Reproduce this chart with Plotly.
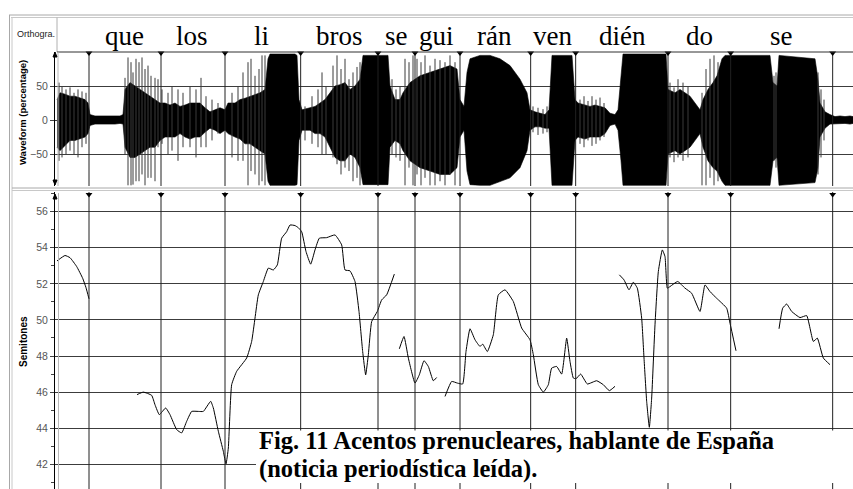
import plotly.graph_objects as go

W, H = 853, 489


def px(x):
    return x / W


def py(y):
    return 1 - y / H


# ---------------- data (time in ms) ----------------
boundaries_ms = [96, 312, 504, 731, 963, 1074, 1209, 1421, 1556, 1833, 2021, 2327]
syllables = ["que", "los", "li", "bros", "se", "gui", "rán", "ven", "dién", "do", "se"]
syllable_ms = [201, 404, 612, 846, 1017, 1138, 1311, 1485, 1695, 1928, 2172]

# pitch contour segments (ms, semitones)
seg1_t = [0, 24, 39, 59, 77, 87, 96]
seg1_st = [53.27, 53.57, 53.45, 52.96, 52.31, 51.79, 51.17]

seg2_t = [240, 259, 284, 294, 307, 326, 339, 359, 374, 389, 404, 424, 439, 461, 469, 484, 499, 507,
          514, 524, 539, 569, 584, 594, 604, 619, 634, 649, 661, 674, 689, 699, 714, 724, 734, 747,
          761, 774, 787, 809, 834, 854, 864, 879, 894, 906, 917, 926, 934, 944, 961, 974, 989, 1012]
seg2_st = [45.86, 46.0, 45.82, 45.3, 44.75, 45.12, 44.75, 43.92, 43.74, 44.38, 44.93, 44.93, 44.93,
           45.49, 45.12, 43.83, 42.72, 42.02, 42.9, 46.41, 47.15, 47.89, 48.81, 50.10, 51.39, 52.13,
           52.87, 52.77, 53.05, 54.53, 54.89, 55.26, 55.23, 55.11, 54.89, 53.79, 53.09, 53.88, 54.53,
           54.56, 54.71, 54.16, 52.77, 52.72, 52.13, 50.47, 48.25, 46.96, 48.07, 49.91, 50.47, 51.11,
           51.39, 52.54]

seg3_t = [1027, 1041, 1054, 1074, 1087, 1101, 1114, 1129, 1139]
seg3_st = [48.40, 49.08, 47.89, 46.50, 46.96, 47.74, 47.42, 46.63, 46.81]

seg4_t = [1164, 1184, 1201, 1217, 1227, 1239, 1254, 1269, 1277, 1291, 1309, 1324, 1344, 1369, 1394,
          1419, 1429, 1444, 1459, 1474, 1484, 1499, 1514, 1529, 1539, 1549, 1557, 1571, 1591, 1619,
          1639, 1657, 1674]
seg4_st = [45.76, 46.59, 46.50, 46.45, 48.25, 49.51, 48.90, 48.53, 48.66, 48.25, 49.18, 51.39, 51.67,
           51.02, 49.55, 48.90, 48.07, 46.41, 46.0, 46.41, 47.33, 47.42, 47.0, 48.99, 47.70, 46.78,
           46.74, 47.0, 46.45, 46.63, 46.41, 46.08, 46.32]

seg5_t = [1687, 1701, 1716, 1729, 1741, 1754, 1761, 1769, 1777, 1784, 1794, 1804, 1816, 1824, 1831,
          1839, 1862, 1884, 1904, 1929, 1944, 1959, 1979, 2009, 2019, 2037]
seg5_st = [52.5, 52.22, 51.67, 52.09, 51.76, 50.10, 47.89, 45.49, 44.05, 45.67, 49.73, 52.68, 53.88,
           53.51, 51.76, 51.85, 52.13, 51.76, 51.48, 50.47, 51.94, 51.57, 51.20, 50.65, 49.82, 48.29]

seg6_t = [2166, 2177, 2189, 2204, 2229, 2249, 2269, 2281, 2299, 2319]
seg6_st = [49.51, 50.65, 50.88, 50.47, 50.13, 50.24, 48.81, 48.99, 47.89, 47.52]

# waveform envelope (ms, % upper, % lower)
env_t = [0, 9, 24, 39, 54, 69, 84, 93, 99, 114, 129, 144, 159, 174, 189, 198, 204, 219, 234, 249,
         264, 279, 294, 309, 324, 339, 354, 369, 384, 399, 414, 429, 444, 459, 474, 489, 504, 513,
         534, 549, 564, 579, 594, 609, 624, 633, 639, 714, 720, 726, 735, 759, 774, 789, 804, 819,
         834, 849, 864, 879, 894, 909, 918, 993, 999, 1014, 1029, 1038, 1059, 1089, 1119, 1149,
         1179, 1200, 1209, 1221, 1230, 1239, 1269, 1299, 1329, 1359, 1389, 1410, 1419, 1434, 1449,
         1464, 1476, 1485, 1545, 1554, 1563, 1584, 1599, 1614, 1629, 1644, 1659, 1674, 1683, 1692,
         1698, 1827, 1833, 1854, 1869, 1884, 1899, 1914, 1929, 1938, 1953, 1968, 1980, 1995, 2004,
         2139, 2148, 2160, 2166, 2274, 2283, 2289, 2304, 2319, 2334, 2349, 2364, 2379, 2388]
env_hi = [30, 40, 38, 35, 35, 32, 30, 25, 8, 6, 6, 5, 6, 6, 6, 8, 45, 55, 50, 45,
          40, 35, 30, 25, 25, 22, 25, 20, 22, 25, 25, 25, 18, 12, 15, 18, 15, 25,
          25, 30, 32, 35, 38, 40, 45, 90, 97, 97, 95, 30, 15, 18, 20, 25, 30, 40,
          50, 52, 55, 45, 50, 60, 95, 95, 50, 30, 30, 40, 55, 65, 70, 75,
          80, 75, 30, 20, 70, 90, 95, 95, 90, 80, 60, 40, 15, 12, 10,
          8, 15, 95, 95, 30, 25, 22, 20, 22, 20, 18, 10, 8, 15, 60,
          97, 97, 45, 40, 45, 40, 35, 25, 15, 30, 45, 55, 65, 90, 95,
          95, 55, 50, 95, 90, 60, 25, 12, 8, 5, 6, 5, 6, 5]
env_lo = [-40, -45, -38, -30, -30, -28, -25, -20, -8, -6, -6, -6, -6, -6, -5, -6, -40, -55, -55, -50,
          -45, -40, -40, -30, -25, -25, -25, -20, -25, -28, -25, -25, -18, -12, -15, -20, -15, -20,
          -25, -28, -35, -35, -40, -45, -50, -90, -96, -96, -95, -30, -15, -15, -20, -20, -25, -40,
          -55, -60, -60, -50, -55, -70, -95, -95, -40, -30, -35, -45, -60, -70, -75, -80,
          -80, -70, -25, -15, -75, -95, -96, -96, -90, -85, -70, -45, -15, -10, -10,
          -12, -12, -96, -96, -30, -25, -28, -25, -25, -25, -20, -8, -6, -15, -60,
          -96, -96, -50, -45, -50, -45, -40, -30, -20, -40, -60, -70, -75, -90, -96,
          -96, -60, -55, -96, -92, -70, -25, -12, -6, -5, -5, -5, -6, -5]

# individual waveform peaks rising out of the envelope (ms, % up, % down)
spike_t = [6, 15, 27, 39, 51, 63, 75, 87,
           204, 213, 222, 228, 237, 246, 255, 264, 273, 282, 294, 303,
           315, 333, 345, 363, 378, 399, 417, 432, 447, 465, 483,
           525, 543, 558, 573, 582, 594, 606, 615, 624,
           744, 765, 783, 795, 807, 828, 840, 852, 864, 876, 888, 900, 909,
           1005, 1017, 1029, 1044, 1056, 1068, 1080, 1092, 1104, 1119, 1134, 1149, 1164, 1179, 1194,
           1428, 1443, 1458, 1470,
           1569, 1581, 1593, 1605, 1617, 1629, 1641,
           1839, 1851, 1863, 1878, 1893, 1935, 1947, 1959, 1971, 1983,
           2151, 2157, 2283, 2292, 2301]
spike_hi = [55, 50, 45, 48, 40, 45, 42, 40,
            62, 92, 85, 70, 90, 85, 92, 75, 80, 65, 62, 60,
            45, 40, 50, 45, 40, 50, 45, 62, 35, 30, 25,
            40, 50, 70, 85, 90, 65, 75, 95, 95,
            20, 35, 45, 70, 50, 80, 95, 75, 90, 60, 70, 78, 85,
            60, 45, 50, 90, 85, 95, 90, 85, 95, 80, 90, 88, 85, 95, 85,
            20, 18, 16, 20,
            30, 35, 28, 35, 30, 33, 25,
            55, 48, 60, 55, 50, 40, 75, 90, 95, 85,
            65, 70, 70, 45, 30]
spike_lo = [-60, -55, -50, -45, -50, -55, -40, -35,
            -50, -96, -96, -95, -90, -90, -80, -96, -85, -85, -90, -40,
            -35, -50, -45, -60, -40, -40, -55, -40, -40, -30, -20,
            -55, -60, -60, -96, -75, -80, -96, -90, -96,
            -30, -35, -40, -50, -50, -55, -65, -80, -70, -75, -90, -85, -96,
            -50, -55, -60, -96, -70, -96, -80, -96, -85, -96, -96, -90, -96, -80, -96,
            -18, -22, -20, -18,
            -35, -40, -30, -38, -35, -30, -25,
            -55, -62, -55, -60, -55, -96, -96, -85, -96, -90,
            -60, -70, -80, -55, -30]

wave_ticks = [-50, 0, 50]
semitone_ticks = [42, 44, 46, 48, 50, 52, 54, 56]
caption_line1 = "Fig. 11 Acentos prenucleares, hablante de España"
caption_line2 = "(noticia periodística leída)."

# ---------------- figure ----------------
X0 = 55  # pixel of y-axis line
XRANGE = [-6, 2388]
fig = go.Figure()

# waveform body
fig.add_trace(go.Scatter(
    x=env_t + env_t[::-1], y=env_hi + env_lo[::-1], mode="lines", fill="toself",
    fillcolor="black", line=dict(color="black", width=0.6),
    xaxis="x", yaxis="y", hoverinfo="skip", showlegend=False))

sx, sy = [], []
for t, h, l in zip(spike_t, spike_hi, spike_lo):
    sx += [t, t, None]
    sy += [h, l, None]
fig.add_trace(go.Scatter(x=sx, y=sy, mode="lines", line=dict(color="#3a3a3a", width=1),
                         xaxis="x", yaxis="y", hoverinfo="skip", showlegend=False))

# pitch contour
for t, s in [(seg1_t, seg1_st), (seg2_t, seg2_st), (seg3_t, seg3_st),
             (seg4_t, seg4_st), (seg5_t, seg5_st), (seg6_t, seg6_st)]:
    fig.add_trace(go.Scatter(x=t, y=s, mode="lines",
                             line=dict(color="black", width=1, shape="spline", smoothing=0.4),
                             xaxis="x2", yaxis="y2", hoverinfo="skip", showlegend=False))

# segment boundaries as vertical lines through each panel (from data)
bx_w, by_w, bx_p, by_p = [], [], [], []
for b in boundaries_ms:
    bx_w += [b, b, None]
    by_w += [100, -97, None]
    bx_p += [b, b, None]
    by_p += [57.09, 40.63, None]
fig.add_trace(go.Scatter(x=bx_w, y=by_w, mode="lines", line=dict(color="#202020", width=1),
                         xaxis="x", yaxis="y", hoverinfo="skip", showlegend=False))
fig.add_trace(go.Scatter(x=bx_p, y=by_p, mode="lines", line=dict(color="#202020", width=1),
                         xaxis="x2", yaxis="y2", hoverinfo="skip", showlegend=False))

# boundary markers (small triangles at top of each panel)
fig.add_trace(go.Scatter(x=boundaries_ms, y=[98.5] * len(boundaries_ms), mode="markers",
                         marker=dict(symbol="triangle-down", size=6, color="black"),
                         xaxis="x", yaxis="y", cliponaxis=False, hoverinfo="skip", showlegend=False))
fig.add_trace(go.Scatter(x=boundaries_ms, y=[56.95] * len(boundaries_ms), mode="markers",
                         marker=dict(symbol="triangle-down", size=6, color="black"),
                         xaxis="x2", yaxis="y2", cliponaxis=False, hoverinfo="skip", showlegend=False))

shapes = []


def hline(y, x0, x1, color, width=1):
    shapes.append(dict(type="line", xref="paper", yref="paper", x0=px(x0), x1=px(x1),
                       y0=py(y), y1=py(y), line=dict(color=color, width=width)))


def vline(x, y0, y1, color, width=1):
    shapes.append(dict(type="line", xref="paper", yref="paper", x0=px(x), x1=px(x),
                       y0=py(y0), y1=py(y1), line=dict(color=color, width=width)))


hline(15, 9, 853, "#a8a8a8")
hline(17.5, 11, 853, "#c8c8c8")
vline(9.5, 15, 489, "#a8a8a8")
vline(12, 17.5, 489, "#c8c8c8")
hline(188, 12, 853, "#a8a8a8")
hline(190.5, 12, 853, "#c8c8c8")
vline(57, 17.5, 52, "#b0b0b0")
hline(52, 57, 853, "#303030")
vline(58, 52, 186, "#b8b8b8")
vline(58.5, 193, 489, "#b8b8b8")


def arrow(ycenter, up):
    y_tip = ycenter - 3 if up else ycenter + 3
    y_base = ycenter + 2 if up else ycenter - 2
    path = "M {} {} L {} {} L {} {} Z".format(px(X0), py(y_tip), px(X0 - 2), py(y_base),
                                              px(X0 + 2), py(y_base))
    shapes.append(dict(type="path", xref="paper", yref="paper", path=path,
                       fillcolor="black", line=dict(color="black", width=1)))


arrow(55, True)
arrow(182, False)
arrow(197, True)

# caption background
shapes.append(dict(type="rect", xref="paper", yref="paper", x0=px(256), x1=px(853),
                   y0=py(483), y1=py(430.5), fillcolor="white", line=dict(width=0), layer="above"))

annotations = []
for w, t in zip(syllables, syllable_ms):
    annotations.append(dict(x=t, y=py(36), xref="x", yref="paper", text=w, showarrow=False,
                            xanchor="center", yanchor="middle",
                            font=dict(family="Liberation Serif", size=27, color="black")))
annotations.append(dict(x=px(15), y=py(34), xref="paper", yref="paper", text="Orthogra.",
                        showarrow=False, xanchor="left", yanchor="middle",
                        font=dict(family="Liberation Sans", size=9, color="#222")))
annotations.append(dict(x=px(22), y=py(113), xref="paper", yref="paper",
                        text="<b>Waveform (percentage)</b>", showarrow=False, textangle=-90,
                        xanchor="center", yanchor="middle",
                        font=dict(family="Liberation Sans", size=9.5, color="black")))
annotations.append(dict(x=px(23), y=py(342), xref="paper", yref="paper",
                        text="<b>Semitones</b>", showarrow=False, textangle=-90,
                        xanchor="center", yanchor="middle",
                        font=dict(family="Liberation Sans", size=10, color="black")))
annotations.append(dict(x=px(257), y=py(440.5), xref="paper", yref="paper",
                        text="<b>" + caption_line1 + "</b>", showarrow=False,
                        xanchor="left", yanchor="middle",
                        font=dict(family="Liberation Serif", size=24.5, color="black")))
annotations.append(dict(x=px(257), y=py(468.5), xref="paper", yref="paper",
                        text="<b>" + caption_line2 + "</b>", showarrow=False,
                        xanchor="left", yanchor="middle",
                        font=dict(family="Liberation Serif", size=24.5, color="black")))

axis_common = dict(showgrid=True, gridcolor="#3c3c3c", gridwidth=1, zeroline=False,
                   showline=True, linecolor="black", linewidth=1, ticks="outside", ticklen=4,
                   tickcolor="#444", tickfont=dict(family="Liberation Sans", size=10.5, color="#555"))

fig.update_layout(
    width=W, height=H, margin=dict(l=0, r=0, t=0, b=0),
    paper_bgcolor="white", plot_bgcolor="rgba(0,0,0,0)",
    xaxis=dict(domain=[px(X0), 1], range=XRANGE, visible=False, anchor="y"),
    xaxis2=dict(domain=[px(X0), 1], range=XRANGE, visible=False, anchor="y2"),
    yaxis=dict(domain=[py(186), py(52)], range=[-97, 100], tickvals=wave_ticks,
               anchor="x", **axis_common),
    yaxis2=dict(domain=[0, py(192)], range=[40.63, 57.09], tickvals=semitone_ticks,
                minor=dict(dtick=1, tick0=41, ticks="outside", ticklen=3, tickcolor="#444",
                           showgrid=False),
                anchor="x2", **axis_common),
    shapes=shapes, annotations=annotations, showlegend=False,
)

fig.write_html("out.html")
